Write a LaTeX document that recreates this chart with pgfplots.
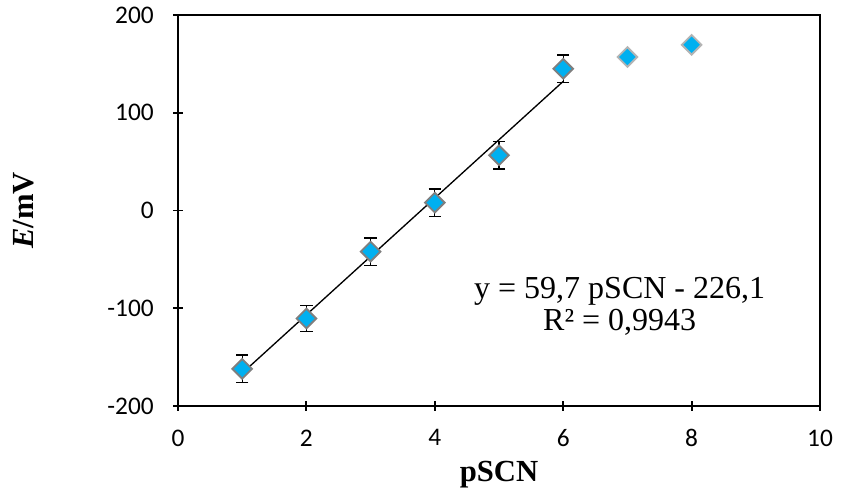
\documentclass[border=0pt]{standalone}
\usepackage{fontspec}
\setmainfont{Liberation Serif}
\newfontfamily\carlito{Carlito}
\newcommand\tickfont{\carlito\fontsize{19}{22}\selectfont}
\newcommand\labfont{\fontsize{23}{26}\selectfont\bfseries}
\usepackage{pgfplots}
\pgfplotsset{compat=1.18}
\definecolor{mk}{HTML}{00B0F0}
\definecolor{bd}{HTML}{7F7F7F}
\definecolor{bdl}{HTML}{B4B4B4}
\begin{document}
\begin{tikzpicture}
\begin{axis}[
  scale only axis,
  width=481.5pt, height=293.25pt,
  xmin=0, xmax=10, ymin=-200, ymax=200,
  xtick={0,2,...,10}, ytick={-200,-100,...,200},
  axis line style={line width=2.1pt},
  tick style={line width=1.4pt, black},
  major tick length=7pt,
  tick align=center,
  xtick pos=bottom, ytick pos=left,
  /pgf/number format/assume math mode=true,
  xticklabel style={font=\tickfont, inner sep=0pt, anchor=north, yshift=-14pt},
  yticklabel style={font=\tickfont, inner sep=0pt, anchor=east, xshift=-14.5pt},
  xlabel={pSCN},
  ylabel={\textit{E}/mV},
  xlabel style={font=\labfont, at={(axis description cs:0.5,0)}, anchor=base, yshift=-56.25pt},
  ylabel style={font=\labfont, at={([xshift=-108.5pt]axis description cs:0,0.5)}, anchor=base, rotate=0},
  clip=false,
]
\addplot[black, line width=1pt, forget plot] coordinates {(1,-166.4) (6,132.1)};
\addplot[only marks, mark=square*, mark size=5.2pt,
  mark options={rotate=45, fill=mk, draw=bd, line width=1.4pt},
  error bars/.cd, y dir=both, y explicit,
  error bar style={black, line width=1pt},
  error mark options={rotate=90, mark size=4.6pt, line width=1.1pt, black}]
  coordinates {
  (1,-162) +- (0,14)
  (2,-110.5) +- (0,13.5)
  (3,-42) +- (0,14)
  (4,8) +- (0,14)
  (5,56.5) +- (0,14)
  (6,145) +- (0,14)
  };
\addplot[only marks, mark=square*, mark size=5.2pt,
  mark options={rotate=45, fill=mk, draw=bdl, line width=1.4pt}]
  coordinates {(7,157) (8,169.5)};
\node[font=\fontsize{24}{23.6}\selectfont, align=center] at (axis cs:6.88,-98)
  {y = 59,7 pSCN - 226,1\\R² = 0,9943};
\coordinate (bl) at (rel axis cs:0,0);
\coordinate (tr) at (rel axis cs:1,1);
\end{axis}
\path ([shift={(-133.5pt,-69.75pt)}]bl) rectangle ([shift={(18.75pt,11.25pt)}]tr);
\end{tikzpicture}
\end{document}
